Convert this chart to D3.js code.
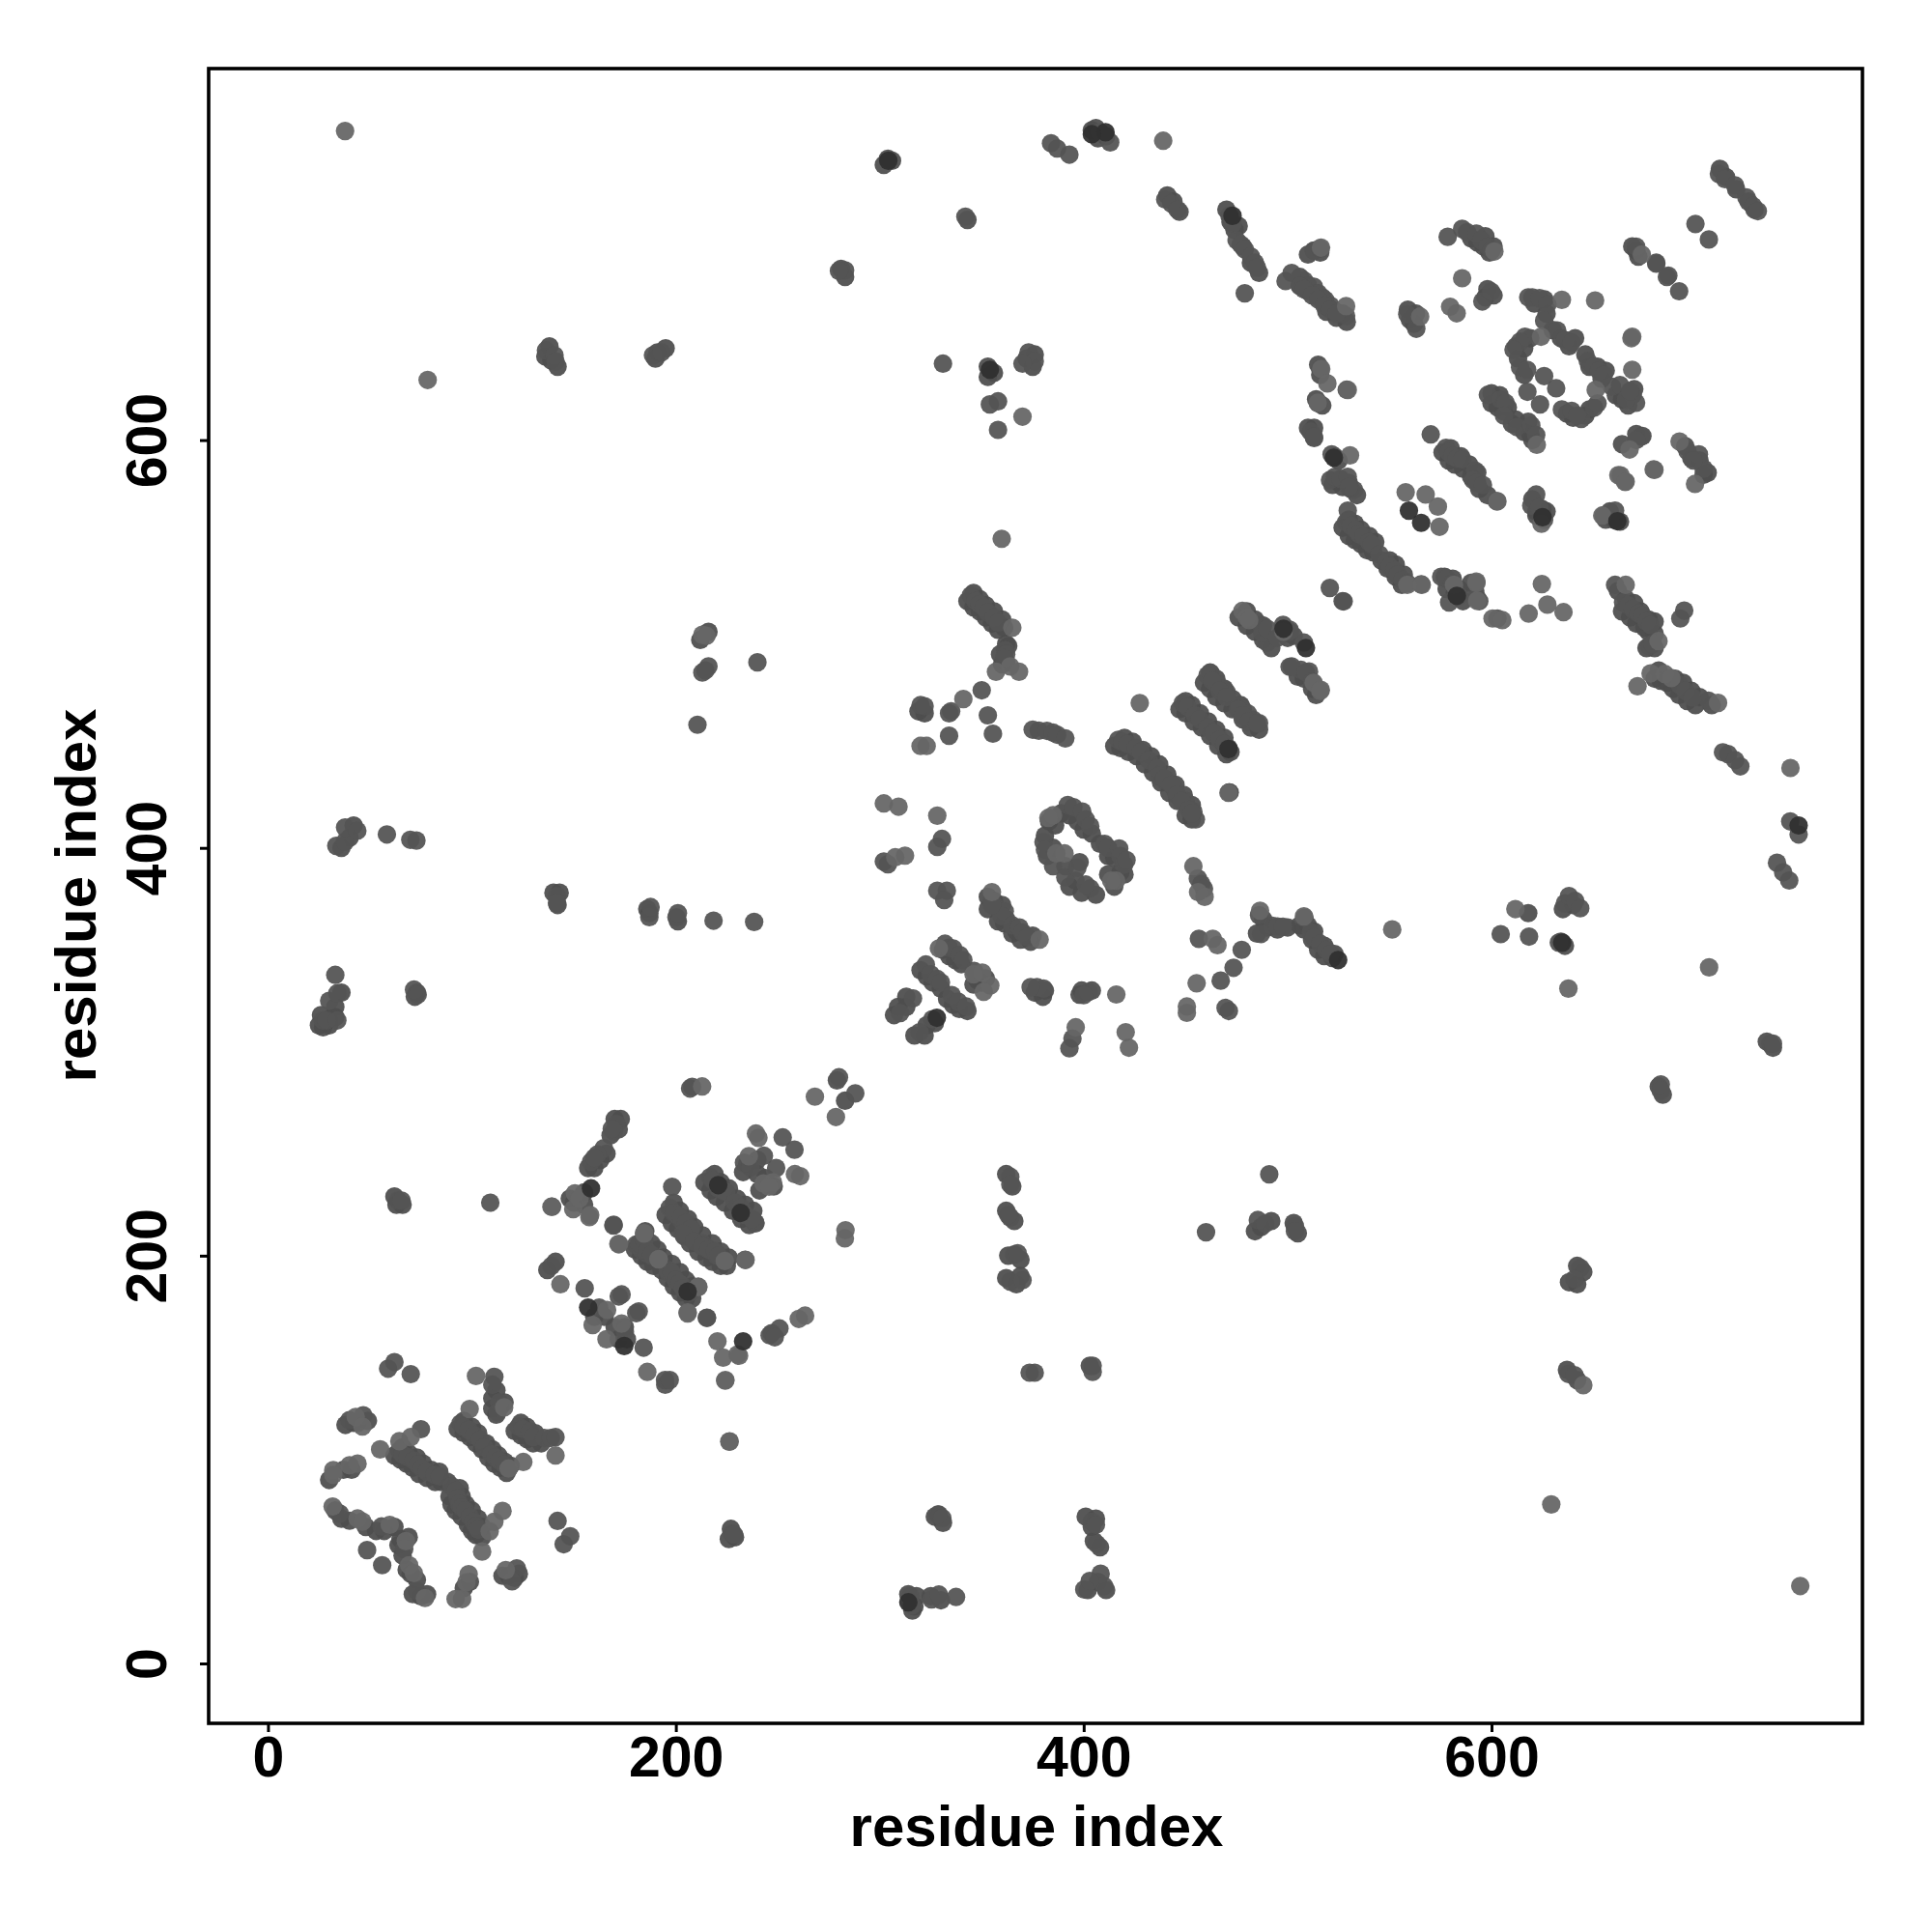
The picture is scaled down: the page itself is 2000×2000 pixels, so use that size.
<!DOCTYPE html>
<html><head><meta charset="utf-8">
<script src="https://cdn.jsdelivr.net/npm/d3@7"></script>
<style>html,body{margin:0;background:#fff}text{font-family:"Liberation Sans",Arial,sans-serif;font-weight:700;fill:#000}</style>
</head><body><svg id="c" width="2000" height="2000"></svg>
<script>
const tickValues=[0,200,400,600];
const axisTitle="residue index";
const contactsDark=[[233,158],[174.7,155.7],[158.4,233],[205.8,182.4],[559.5,565.4],[565.5,559.4],[661.7,560.2],[509,498],[524.8,345],[750.6,411],[410.7,751],[354,634.5],[583,523.6],[471,448.5],[634.7,353.5],[157,174.6],[220.8,234.6],[231.8,221],[625,562.2],[522.7,591.4],[304.2,737],[328,316.7],[498,507.5],[404,750],[314,30],[473,710]];
const contactsBand=[
[93,115],[96,113],[99,111],[102,108],[105,105],[108,101],[111,98],[114,96],[117,93.5],[96,119],[100,116],[103,113],[107,108],[110,105],[113,102],[116,99],[119,97],[121,114],[124,112],[127,110],[130,108],[134,108],[124,118],[127,116],[131,113],[110,125],[112,122],[114,126],[116,128],[110,130],[112,134],
[62,102],[65,100],[68,98],[71,96],[74,93],[78,91],[82,89],[85,89],[66,106],[69,103],[73,101],[76,98],[80,95],[84,94],[88,89],[89,82],[90,78],[92,75],[95,72],[98,68],[100,65],[102,63],[105,62],[94,86],[95,82],[97,78],[100,75],[103,71],[105,67],
[38,117],[42,118],[44,118],[49,119],[30,90],[37,95],[41,95],[33,75],[36,71],[40,70],[48,67],[53,65],[57,65],[62,67],[64,58],[65,61],[69,62],[66,53],[68,46],[70,44],[73,41],[71,34],[75,33],[78,34],[96,37],[99,40],[118,43],[121,42],[115,43],[123,44],
[180,203],[183,200],[186,197],[189,195],[193,193],[196,189],[199,185],[202,182],[205,179],[208,179],[185,212],[188,206],[191,203],[194,199],[198,196],[202,192],[205,188],[208,185],[195,220],[198,216],[201,213],[204,210],[207,206],[211,202],[215,199],[218,197],[222,195],[225,195],[199,226],[202,222],[206,218],[209,214],[213,210],[218,206],[222,202],[226,199],[214,236],[217,232],[220,229],[224,226],[228,222],[232,218],[236,215],[239,216],[219,240],[222,236],[226,233],[230,228],[234,225],[238,222],
[157,243],[160,243],[163,247],[166,250],[168,259],[172,262],[173,267],[170,267],[240,247],[235,245],[233,241],[240,240],[244,238],[248,234],[241,232],[148,228],[155,231],[155,225],[150,226],[160,170],[165,170],[170,165],[175,165],[172,159],[176,159],[137,193],[141,197],
[415,450],[418,449],[422,447],[426,445],[430,441],[434,437],[438,432],[442,427],[446,423],[450,416],[453,414],[420,454],[424,452],[429,448],[433,445],[437,441],[441,436],[445,431],[449,426],[453,421],[447,468],[450,466],[454,462],[458,459],[462,455],[466,450],[470,446],[472,447],[450,472],[453,470],[457,466],[461,462],[465,458],[469,454],[459,481],[462,478],[465,474],[469,471],[473,468],[478,463],[482,459],[486,458],[462,486],[465,483],[469,478],[473,473],[477,470],
[476,513],[480,509],[484,506],[488,502],[492,498],[480,516],[484,512],[488,509],[497,505],[500,503],[503,504],[505,484],[508,483],[512,478],[514,475],
[343,521],[346,518],[349,516],[352,513],[355,510],[358,507],[346,525],[349,522],[352,519],[356,516],[360,512],[361,508],[360,490],[362,491],[359,495],[363,499],[322,466],[319,467],
[527,557],[530,553],[533,551],[536,549],[539,546],[542,545],[546,541],[549,537],[553,533],[556,529],[530,561],[533,559],[536,556],[540,553],[543,550],[550,541],[553,539],[557,534],[578,527],[582,525],[584,527],[586,521],[592,526],[590,530],[577,533],[581,532],
[662,526],[664,516],[668,513],[671,510],[675,508],[677,506],[680,505],[666,522],[670,520],[673,516],[677,512],[680,511],[676,498],[680,498],[680,483],[683,482],[686,481],[689,478],[692,475],[696,472],[700,470],[682,487],[690,483],[694,481],[698,477],[702,474],[708,470],
[576,594],[579,590],[582,588],[586,586],[590,582],[594,576],[598,573],[580,596],[585,592],[589,588],[593,584],[600,618],[603,616],[606,614],[610,608],[616,604],[619,603],[600,623],[604,622],[608,616],[612,610],[618,609],[620,600],
[621,667],[626,669],[627,662],[630,654],[634,650],[638,646],[641,650],[612,646],[613,640],[616,632],[616,645],[619,650],[646,642],[648,636],[654,630],[652,636],[656,634],[637,613],[640,611],[646,612],[648,615],[664,620],[667,617],[670,625],[661,622],[668,621],
[506,680],[510,676],[514,672],[517,670],[520,665],[524,660],[527,662],[529,658],[506,676],[510,673],[515,670],[519,663],[590,699],[593,697],[596,695],[599,692],[597,700],[601,695],[597,670],[601,671],[598,674],[563,662],[560,659],[559,664],[562,657],[522,578],[527,577],[530,579],[534,573],[531,576],[523,592],[525,590],[524,580],[695,597],[702,590],[704,583],[698,591],[706,584],[664,598],[671,603],[674,602],[620,571],[622,565],[625,566],[627,565],[622,563],[656,561],[660,561],[663,560],[658,565],
[488,365],[485,358],[490,361],[495,360],[500,361],[506,362],[510,362],[512,355],[515,350],[518,347],[522,346],[508,360],[513,359],[518,352],[523,348],
[383,413],[386,411],[389,417],[393,416],[397,413],[400,409],[404,407],[408,402],[412,396],[415,395],[418,388],[415,381],[412,387],[420,387],[399,378],[406,377],[393,381],[396,384],[398,393],[382,396],[381,406],[385,400],[391,391],
[353,370],[358,364],[361,363],[365,358],[369,355],[374,354],[353,376],[356,374],[360,372],[362,365],[367,359],[375,357],[331,350],[334,347],[337,345],[340,343],[320,340],[323,337],[326,334],[330,331],[348,335],[346,333],[350,334],[352,336],[333,326],[336,323],[339,321],[343,320],[313,322],[307,318],[323,313],[327,314],[317,308],[322,308],[313,327],[309,322],[376,329],[380,327],[381,330],[398,328],[404,330],[399,330],
[304,738],[302,735],[306,737],[353,636],[356,633],[353,631],[404,752],[406,753],[407,748],[411,749],[283,680],[281,684],[343,708],[212,502],[216,506],[362,500],[372,640],[376,642],[375,636],[73,329],[72,327],[30,313],[27,312],[33,317],[30,316],[40,405],[42,411],[36,400],[187,368],[186,370],[201,364],[140,378],[143,378],[142,372],[26,318],[25,313],[33,322],[36,329],[136,641],[138,646],[139,639],[142,636],[190,640],[191,643],[195,645],
[362,240],[365,234],[362,222],[366,217],[363,200],[369,198],[362,189],[367,186],[369,190],[403,146],[401,72],[406,71],[404,67],[405,60],[408,57],[402,36],[407,40],[411,36],[314,34],[318,33],[317,28],[316,26],[325,33],[330,31],[329,73],[331,69],[227,66],[229,62],[226,61],[327,72],[487,214],[484,212],[492,217],[503,216],[505,211],[642,195],[645,192],[638,187],[642,186],[637,144],[642,139],[634,354],[636,352],[635,370],[640,372],[735,305],[738,302],[682,283],[684,279],[510,691],[516,692],[669,695],[672,690],[671,693],[63,225],[66,225],[62,229],[476,705],[472,707],[470,713],[474,703],[478,695],[482,687],[486,682],[441,720],[444,717],[447,712],[715,729],[720,723],[726,717],[712,733],[729,713],[513,601],[510,606],[513,606],[514,620],[517,617],[516,632],[515,637],[618,368],[279,286],[283,276]
];
const contactsMid=[
[58.9,144.6],[62,147.8],[70,141.9],[111,140.6],[110,136.7],[113.4,128],[112.6,123.3],[94.4,117.7],[96,116],[98.4,114.6],[101,112],[104,109.8],[106,106],[109.5,102.7],[111.5,101],[113.4,99.6],[116,97.5],[118,95.6],[122.9,116.2],[125,115],[128.4,113.8],[130,111],[135.5,110.6],[138.7,110.6],[141,111],[39.9,119.3],[46.7,121.7],[64.4,104.3],[66,102.5],[68.4,101.2],[71.5,99.6],[73.5,97.5],[75.5,95.6],[78,94],[81.8,92.5],[84.2,91.7],[90,87],[92.1,84.6],[93,81],[93.7,78.2],[95,76.5],[96.8,75],[99,72],[100.8,69.5],[102,67.5],[103.1,65.6],[75,114.9],[35.2,73.5],[55.7,67.2],[48.6,55.6],[56,48.2],[66.8,56.1],[73,35.6],[145,58.5],[148.2,62.4],[142,69.9],[122,46.6],[119.7,40.3],[227.5,63.7],[228.5,63.2],
[139,195],[155.3,184],[162.4,174.6],[173.4,181],[172,180],[181.8,172.7],[180.6,171.8],[175,162.8],[184.2,154.9],[194.8,136.7],[184.5,207],[180.5,205.4],[183,203],[185.3,201.5],[188,200],[196,193],[198,191],[200,188],[202.7,185.7],[204.6,183.5],[206.6,181.7],[215.3,169.6],[169.5,215.2],[202.7,217.3],[207.4,213.3],[204.2,209.4],[213,206],[215,204],[217.7,202.3],[220,200],[224,197.5],[234,198],[238,217.3],[239,216],[208,282.8],[280,287.5],[288,279.6],[171,264.6],[169.6,261],[168.6,262.2],[164.7,252.7],[161.5,249.6],[158.4,246],[160,248],[252.4,258],[258.2,252],[243.2,249],[249.2,243],[233.4,245.6],[236.6,243.3],[169.4,214.8],[198.2,233.8],[197,223.5],[199,221],[200.5,220],[202.6,218.8],[205,216],[207.4,213.2],[203.4,210.9],[209,207],[212.9,204.6],[216,203],[219.2,202.2],[221,200],[216.8,238.5],[218,237],[220.8,233],[223,232],[224.7,231.1],[229,226],[232,223.5],[234,220],[237.4,218],[182,206],[184.4,208],[186,202.2],[188,200.5],[196,192],[197.9,191.9],[200,188],[201.8,186.4],[203.5,184],[215.2,169.5],[246,161],[250.8,164.3],[247,162],[248.5,160],[194.7,139],[197,139],
[302,393.3],[304,392],[330.5,404.4],[328.2,400.5],[328.2,379],[332.9,379],[331.6,374.4],[355,373.6],[357,371],[361.3,368.9],[359.8,366.5],[365,362],[368.5,361],[370,358.5],[392.2,421],[395,420],[399.3,417.8],[401,414],[403.2,410.7],[410.3,402],[412,400],[417.4,399.7],[418,396],[419.8,391.8],[421,394],[403.2,380.2],[401,382],[385,391],[391,385.5],[396.9,390.2],[380.3,402.8],[381,399],[437,435],[440,433],[443.5,430.5],[445,428],[450,423],[453.8,417.8],[455,414],[471.6,427.2],[456,385],[457.7,382.3],[459,380],[469.6,321.5],[471.2,320],[486,367],[487,357.8],[492.5,361.8],[495,361.5],[497.7,361.3],[508.3,365.7],[511.4,358.6],[513,356],[516,353],[519,350],[521,348],[456.5,355.4],[477.5,350],[473.5,341.2],[467.2,334.9],[394.5,306.5],[393,301.7],[402.4,329.4],[400,327.8],[377.1,331.7],[380.3,331],[374,331.7],
[332,353],[334,351],[336,350.7],[339.2,347.5],[341,345],[322.6,342.8],[325,338],[328.2,335.7],[330,334],[346.3,339.6],[335.3,327.8],[338.4,324.6],[342.4,322.2],[316.3,326.2],[310,319],[325.8,316],[319.5,309.6],[355,372],[372.4,356.2],
[486.8,509.4],[490,500.7],[487.6,505.4],[497.8,509.4],[501,507],[508,500.7],[501,488.8],[506.5,487.3],[510.5,486.5],[520.7,527.5],[527.5,520.9],[462.3,485.7],[465.4,481],[468,478],[470.2,476.2],[476.5,469.9],[478,468],[480.5,465.9],[483,463],[486,461.2],[463.9,456.4],[466,454],[468.5,451],[471.4,427.2],
[508.1,678.3],[512.9,675.2],[515,672],[518.4,668.8],[521,666],[523.2,663.3],[528.7,660.9],[512.9,692.9],[558.7,661.7],[563.1,654.6],[578.5,699.7],[585.6,703.6],[588,702],[592.7,701.2],[595,698],[598.2,694.9],[600,693],[595.5,668],[599.8,672.8],[618,670],[620,670],[623.5,669.6],[627.4,666.5],[625.8,658.6],[632.2,653.8],[636,649],[639.3,647.8],[616.4,650.7],[614,648.3],[610.8,644.3],[614,635.7],[617.5,634.5],[625.8,631.4],[631.7,625.4],[617.6,623.7],[623.8,617.5],[634.5,615],[639.3,614.3],[644,610.4],[642,612],[650.3,615.9],[652,618],[659,626.2],[663,627],[669.3,622.2],[670.9,618.3],[666,619.9],[668,624],[647.2,638.8],[650,636],[652.7,634.1],[655,632],[670.9,694.9],[680.8,686.5],[686.7,680.7],[673.3,601.7],[671,600],
[521.6,593],[520.8,580.4],[523.2,582],[526,581],[529.5,582],[532.6,575.6],[530,577],[529.5,565.4],[528.7,559.8],[531,558],[533.4,555.9],[535,554],[537.4,552.7],[540,550],[541.3,548.8],[545,544],[548.4,540],[550,538],[552.4,536.1],[554,534],[556.3,531.4],[558.7,529.8],[565.5,529.3],[575.3,533],[578,532],[580.8,529.8],[584,523.5],[579.2,520.4],[592.7,523],[594,521],[602.9,512.5],[570.2,602.8],[577.7,596.2],[579,594],[580.8,592.2],[583,591],[585.6,590.6],[591.9,585.1],[591,580.4],[593,579],[595.8,578],[602.6,570],[621.9,573.3],[619.5,567.8],[623.4,567],[625.8,561],[655,563],[660.6,565.4],[598.2,622.2],[604.5,619.9],[606.9,618.3],[606.1,612],[612.4,606.4],[619.5,607.2],[621.9,602.5],
[704,586],[701.7,593],[696.1,594.6],[699,590],[660.6,529],[664.5,520.4],[667,519],[669.3,517.2],[672,515],[674,514],[676,511],[678,509.3],[677.2,499],[679,500],[692.6,512.5],[694.5,516.4],[692.2,480],[695,477],[698.5,473.8],[706.4,472.2],[713.5,446.9],[716,446],[719.5,443],[722,440],
[344.7,523.8],[347,521],[349,519.6],[351,518],[353,515.4],[356,513],[358,510.5],[361.5,497],[362,495],[361,493],[350,477.3],[335,467],[334,466],[320,470],[322,469.5],[353,465],[355.5,456],[334,455],
[213,486],[216,489],[214.5,487],[210.6,460.4],[240,491],[490,507.5],[495,503],[501,506],[502,489],[509,486],[512,481.5],[527,521],
[417,453],[419,452],[421.4,451],[425.7,449],[428,447],[432,443],[436,439],[439.6,434],[443,431],[445.6,426],[448,423],[451.6,418.7],[453,417],[448.6,471],[451,469],[454.6,465],[457,463],[460.7,459],[464,456],[466.7,453],[469,451],[471,449],[460.7,484.6],[463,482],[466.7,477],[470,474],[475.8,468],[478,465],[481,462],[485,461],[375,458],[378,457.5],[382,457.4],[385,456.5],[387,455.5],[391,453.7],
[471.5,710],[473,706],[475,698],[477,696],[479,693.5],[482,690],[484,687],[485,684.6],[479,672],[499,678],[502,682],[513,693],[516,694],[506,675.5],[508,674],[512,671],[515,669],[518,666],[521,664],[524,662],
[440,718],[443,716],[446,713],[408,751],[413,746],[384,745.6],[387,743],[393,740],[342,709.6],[283,683.3],[280,683],[331,637.5],[373,643],[376,638.7],[370,637.5],[354,617.5],[358,619],[358,605],[136.3,644],[140.5,641.6],[141,638.6],[188.8,641.6],[193,643],
[746.5,413],[750.6,406.6],[740,392.7],[743,388],[746,384],[736.8,304],[738,304],[683,284],[683,281],[604.5,357.7],[618.4,356.5],[636,372.8],[638,376.4],[641,374],[643.5,370.4],[633,353.5],[643.6,194],[640.7,188.5],[637.7,142],[640.7,141.4],[485.4,217.5],[489,215.7],[491,239.9],[503.6,214.5],[503.6,212],[460,211.5],[404.4,143],[404.4,146],[376,142.6],[373.5,142.6],[364,238.7],[364,235],[364,218.7],[363,220],[366,200.6],[364,187.3],[370,188],[367.6,201.2],[404,69.5],[406,68],[406.4,58.6],[408.3,44],[410,38],[400.3,36.3],[403,40.5],[328.4,73],[330.7,71.3],[315.7,28.4],[315,33],[325.4,31.4],[329,33.8],[337.4,32.6],
[26.9,315.4],[28.7,315.4],[34,315.4],[30,325],[34,328.7],[33,337.7],[71.6,330.5],[73.4,328],[33.5,401],[37.8,403],[37.8,410],[43.8,408.4],[58.3,406.6],[69.8,404],[72.8,403.6],[141.7,376.4],[141.7,373],[187,366],[187.6,371],[200.3,366],[201,368],[218.5,364.3],[238.4,363.7],[63.8,227],[65.5,227],[109,226],[139.3,224],[207,282],[700,706],[706.6,698.4],[680.8,687],[686,680],[692,673],[711.5,730.5],[714.5,728],[719.4,725],[725,719],[728.2,714.8],[730.6,712.3],[529,624.7],[516,635],[515,618],[511.3,604.1],[512.9,601.7]
];
const contactsLight=[
[102,141],[115.8,125.6],[98.9,124.8],[125.2,98.8],[118,95.6],[141,102],[43,120.9],[46.3,116.2],[55,105],[64.4,109],[70,111],[32,94.8],[32,92.5],[40,97.2],[43.9,98],[31.7,77],[43.9,71.1],[46.3,69.6],[59.7,68],[67.6,60],[69.2,48.2],[71.5,44.3],[77,32.1],[92,31.6],[95.2,31.6],[97.3,39.8],[98.4,43.8],[105,54.9],[108.7,64.8],[111,69.5],[115,74.8],[116.6,45.8],[226.4,108.9],[143.4,186],[166.3,173.4],[159.2,166],[166,159],[173.4,166.7],[186,143],[220.4,158],[223.2,150],[231,150.9],[224.3,139],[184.5,211],[191.6,198.3],[211,184.6],[205.8,172.2],[172.2,205.7],[157.6,218.9],[149.7,222.8],[212.9,283],[268.2,278],[278.5,268],[150.5,230.6],[152.8,228],[139,224],[158,219.9],[171.8,205.7],[239.3,259.9],[240.5,257.8],[235.8,248.8],[258.4,240],[261,239],[247.6,236],[243,235.4],[245.7,233.8],[283.2,212.5],[282.9,208.5],[224,197.4],[234.2,197.9],[211,184.8],[205.8,171.7],[230.3,151.6],[260.3,169],[263.4,170.6],[184.4,210.9],[191.5,198.2],[224.2,138.7],
[302,421.8],[309.2,420.2],[328.2,415.8],[307.6,395.4],[312.4,396.2],[355,378.3],[378.4,355],[382.7,414.7],[385,416],[415.9,383.9],[413.5,383.9],[390.6,397.3],[386.6,397.3],[453.8,391],[456.1,378.3],[459.3,376],[463.3,355.4],[465.6,352.3],[455.4,333.6],[450.6,322.2],[450.6,319.1],[420.6,309.6],[422.2,302],[396.1,312],[416,328.1],[486.5,369.2],[508,366.4],[346,338],[350.3,338.8],[354.2,332.5],[351,329.4],[329,350.7],[477.8,516.2],[480,513],[481.2,511.7],[512.8,481],[516.3,477.5],[558.7,529],[565.8,529],[593,521.2],[592.6,529.9],[600.5,512.5],[516.4,694.4],[528.7,665.7],[565,660.6],[601.4,692.5],[585.6,679.4],[579.7,665.4],[582.9,662.2],[634.5,668.8],[650.8,668.5],[624.3,650.7],[651.1,624.6],[669,650.7],[669,634.5],[663.3,582.7],[665.4,579.6],[679.9,585.4],[667.7,595.4],[692.2,599.3],[673.7,691],[516.5,634.9],[519.5,627.8],[529.5,624.6],[514.8,618.3],[530.6,592.5],[567.7,573.3],[573.7,567.4],[557.9,574.4],[574.5,557.5],[592.6,530.6],[624.7,529.4],[627.4,519.3],[635.3,515.6],[618.2,514.9],[665.8,529],[681.9,501.4],[671.6,479.3],[678,485.6],[685,485.3],[688.2,483.3],[711.1,471.1],[699.8,578.5],[662.2,582.8],[665.8,579.6],[679.5,585.6],[654.3,563],[622.2,597.7],[602.9,570],[605.3,511.7],[427.5,471],[471,427],[78.3,629.5],[37.8,751.6],[439,746.8],[359.8,551.6],[341,473],[365,508],[364,489],[368.3,486.4],[357,486.4],[320,450],[323,450],[213,504.5],[215,504],[498,506],[516,477],[370,611.5],[746.6,439.2],[706.7,341.4],[611.7,370],[637.7,331],[551.3,360],[629.3,78],[751.4,38],[645,136.5],[226.2,108.8],[668.6,650],[624.5,559],[581.6,529]
];
const L=216,R=1928,T=71,B=1784;
const svg=d3.select("#c");
const x=d3.scaleLinear().domain([-29.1,781.9]).range([L,R]);
const y=d3.scaleLinear().domain([-29.37,782.2]).range([B,T]);
const layers=[[contactsBand,"#4e4e4e"],[contactsMid,"#545454"],[contactsLight,"#666666"],[contactsDark,"#303030"]];
layers.forEach(([pts,col])=>{
  svg.append("g").selectAll("circle").data(pts).join("circle")
    .attr("cx",d=>x(d[0])).attr("cy",d=>y(d[1])).attr("r",9.6)
    .attr("fill",col).attr("fill-opacity",0.94);
});
svg.append("rect").attr("x",L).attr("y",T).attr("width",R-L).attr("height",B-T).attr("fill","none").attr("stroke","#000").attr("stroke-width",3.6);
const gx=svg.append("g").attr("transform",`translate(0,${B})`).call(d3.axisBottom(x).tickValues(tickValues).tickSize(9).tickPadding(4));
gx.select(".domain").remove();
gx.selectAll("line").attr("stroke","#000").attr("stroke-width",3);
gx.selectAll("text").style("font-size","59px").attr("fill","#000");
const gy=svg.append("g").attr("transform",`translate(${L},0)`).call(d3.axisLeft(y).tickValues(tickValues).tickSize(9));
gy.select(".domain").remove();
gy.selectAll("line").attr("stroke","#000").attr("stroke-width",3);
gy.selectAll("text").style("font-size","59px").attr("fill","#000").attr("text-anchor","middle").attr("dy",0).attr("x",0).attr("y",0)
  .attr("transform",`translate(${172-L},0) rotate(-90)`);
svg.append("text").attr("x",1073).attr("y",1911).attr("text-anchor","middle").style("font-size","60px").text(axisTitle);
svg.append("text").attr("transform",`translate(99,927) rotate(-90)`).attr("text-anchor","middle").style("font-size","60px").text(axisTitle);
</script></body></html>
